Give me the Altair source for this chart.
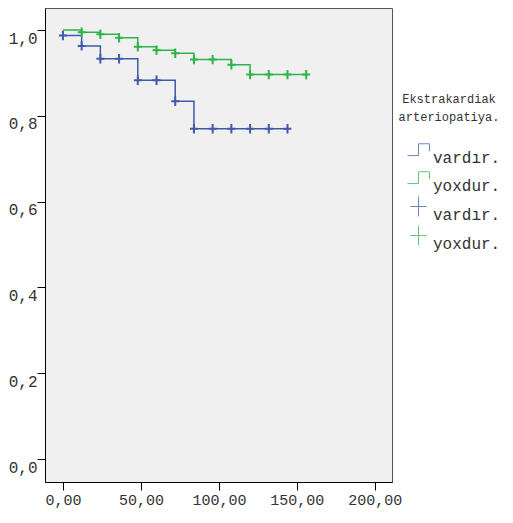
import altair as alt
import pandas as pd

# Kaplan-Meier steps (time, survival) per group
blue_times = [0, 12, 24, 48, 72, 84, 144]
blue_surv = [0.987, 0.963, 0.933, 0.883, 0.834, 0.770, 0.770]
green_times = [0, 12, 24, 36, 48, 60, 72, 84, 108, 120, 156]
green_surv = [1.0, 0.995, 0.990, 0.982, 0.961, 0.953, 0.946, 0.931, 0.919, 0.896, 0.896]

# censored marks
blue_cens_t = [0, 12, 24, 36, 48, 60, 72, 84, 96, 108, 120, 132, 144]
blue_cens_s = [0.987, 0.963, 0.933, 0.933, 0.883, 0.883, 0.834, 0.770, 0.770, 0.770, 0.770, 0.770, 0.770]
green_cens_t = [12, 24, 36, 48, 60, 72, 84, 96, 108, 120, 132, 144, 156]
green_cens_s = [0.995, 0.990, 0.982, 0.961, 0.953, 0.946, 0.931, 0.931, 0.919, 0.896, 0.896, 0.896, 0.896]

x_ticks = [0, 50, 100, 150, 200]
y_ticks = [0.0, 0.2, 0.4, 0.6, 0.8, 1.0]

leg_domain = ["L_var", "L_yox", "C_var", "C_yox"]
leg_colors = ["#3f5aaa", "#2db34a", "#3f5aaa", "#2db34a"]
step_path = "M-1,0.55H0V-0.52H1V0.15"
cross_path = "M-0.75,0H0.75M0,-0.9V0.9"
leg_shapes = [step_path, step_path, cross_path, cross_path]

line_df = pd.concat([
    pd.DataFrame({"t": blue_times, "s": blue_surv, "leg": "L_var"}),
    pd.DataFrame({"t": green_times, "s": green_surv, "leg": "L_yox"}),
])
cens_df = pd.concat([
    pd.DataFrame({"t": blue_cens_t, "s": blue_cens_s, "leg": "C_var"}),
    pd.DataFrame({"t": green_cens_t, "s": green_cens_s, "leg": "C_yox"}),
])

FONT = "Courier New, Liberation Mono, monospace"

x_enc = alt.X("t:Q",
              scale=alt.Scale(domain=[-11.5, 211], nice=False, zero=False),
              axis=alt.Axis(values=x_ticks, title=None, grid=False,
                            labelExpr="replace(format(datum.value, '.2f'), '.', ',')",
                            tickSize=8, labelPadding=2, labelFontSize=15,
                            domainColor="#000", tickColor="#000"))
y_enc = alt.Y("s:Q",
              scale=alt.Scale(domain=[-0.0536, 1.0513], nice=False, zero=False),
              axis=alt.Axis(values=y_ticks, title=None, grid=False,
                            labelExpr="replace(format(datum.value, '.1f'), '.', ',')",
                            tickSize=8, labelPadding=0, labelBaseline="top",
                            domainColor="#000", tickColor="#000"))

legend = alt.Legend(title=["Ekstrakardiak", "arteriopatiya."],
                    labelExpr="indexof(datum.value, 'var') >= 0 ? 'vardır.' : 'yoxdur.'",
                    orient="none", legendX=352, legendY=86,
                    symbolSize=484, symbolStrokeWidth=1,
                    symbolOffset=10, labelOffset=3, rowPadding=0, titlePadding=14,
                    labelFontSize=16, titleFontSize=12, titleFontWeight="normal",
                    titleLineHeight=18,
                    titleAlign="center", titleAnchor="middle", labelBaseline="top",
                    labelFont=FONT, titleFont=FONT, labelColor="#333", titleColor="#333",
                    symbolFillColor="transparent", symbolOpacity=0.75)

color_scale = alt.Scale(domain=leg_domain, range=leg_colors)
shape_scale = alt.Scale(domain=leg_domain, range=leg_shapes)

lines = alt.Chart(line_df).mark_line(interpolate="step-after", strokeWidth=1.5).encode(
    x=x_enc, y=y_enc,
    color=alt.Color("leg:N", scale=color_scale, legend=legend),
    detail="leg:N", order="t:Q")

points = alt.Chart(cens_df).mark_point(filled=False, size=110, strokeWidth=2, opacity=1).encode(
    x=x_enc, y=y_enc,
    color=alt.Color("leg:N", scale=color_scale, legend=legend),
    shape=alt.Shape("leg:N", scale=shape_scale, legend=legend))

chart = alt.layer(lines, points).properties(
    width=347, height=474,
    autosize=alt.AutoSizeParams(type="none"),
    padding={"left": 37, "top": 0, "right": 113, "bottom": 28},
    background="white",
).configure_view(fill="#f0f0f0", stroke="#555", strokeWidth=1).configure_axis(
    labelFont=FONT, labelFontSize=16, labelColor="#333")

chart.save("out.html", embed_options={"renderer": "svg", "actions": False})
